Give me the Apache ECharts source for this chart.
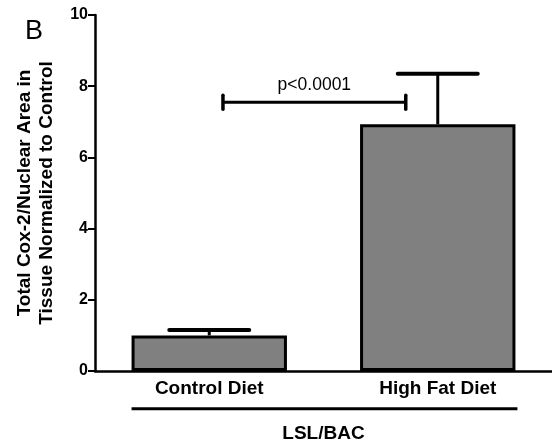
<!DOCTYPE html>
<html>
<head>
<meta charset="utf-8">
<script src="https://cdn.jsdelivr.net/npm/echarts@6/dist/echarts.min.js"></script>
<style>
html,body{margin:0;padding:0;background:#fff;}
#chart{width:552px;height:448px;}
</style>
</head>
<body>
<div id="chart"></div>
<script>
// data
var categories = ['Control Diet', 'High Fat Diet'];
var means = [1.0, 6.93];
var sems = [0.15, 1.42];
var yTicks = [0, 2, 4, 6, 8, 10];
// significance bracket: start, end (on a 0..2 scale across the plot), height
var bracket = [0.56, 1.36, 7.55];
var pLabel = 'p<0.0001';
var groupLabel = 'LSL/BAC';
var groupLineY = -1.06;

var font = 'Liberation Sans, Arial, sans-serif';

function renderError(params, api) {
	var x = api.value(0), m = api.value(1), e = api.value(2);
	var base = api.coord([x, m]);
	var top = api.coord([x, m + e]);
	var half = api.size([1, 0])[0] * 0.175;
	return {type:'group', children:[
		{type:'line', shape:{x1:base[0], y1:base[1], x2:top[0], y2:top[1]}, style:{stroke:'#000', lineWidth:3}},
		{type:'line', shape:{x1:top[0]-half, y1:top[1], x2:top[0]+half, y2:top[1]}, style:{stroke:'#000', lineWidth:4, lineCap:'round'}}
	]};
}

// bracket + group line under the categories
function renderNotes(params, api) {
	var a = api.coord([api.value(0), api.value(2)]);
	var b = api.coord([api.value(1), api.value(2)]);
	// group line spans from first bar left edge to last bar right edge
	var c0 = api.coord([0.5, groupLineY]);
	var c1 = api.coord([1.5, groupLineY]);
	var barHalf = api.size([1, 0])[0] * 0.34;
	return {type:'group', children:[
		{type:'line', shape:{x1:a[0], y1:a[1], x2:b[0], y2:b[1]}, style:{stroke:'#000', lineWidth:3}},
		{type:'line', shape:{x1:a[0], y1:a[1]-7, x2:a[0], y2:a[1]+7}, style:{stroke:'#000', lineWidth:3.5, lineCap:'round'}},
		{type:'line', shape:{x1:b[0], y1:b[1]-7, x2:b[0], y2:b[1]+7}, style:{stroke:'#000', lineWidth:3.5, lineCap:'round'}},
		{type:'text', x:(a[0]+b[0])/2, y:a[1]-8, style:{text:pLabel, fill:'#000', font:'17.5px ' + font, align:'center', verticalAlign:'bottom'}},
		{type:'line', shape:{x1:c0[0]-barHalf, y1:c0[1], x2:c1[0]+barHalf+2, y2:c1[1]}, style:{stroke:'#000', lineWidth:3}}
	]};
}

var myChart = echarts.init(document.getElementById('chart'));
var option = {
	animation: false,
	title: {
		text: 'B',
		left: 20,
		top: 13,
		textStyle: {fontFamily: font, fontSize: 27, fontWeight: 'normal', color: '#000'}
	},
	grid: {left: 95, right: 0, top: 15, bottom: 76},
	xAxis: [
		{
			type: 'category',
			data: categories,
			axisLine: {lineStyle: {color: '#000', width: 2.5}},
			axisTick: {show: false},
			axisLabel: {color: '#000', fontFamily: font, fontSize: 19, fontWeight: 'bold', margin: 8},
			name: groupLabel,
			nameLocation: 'middle',
			nameGap: 53,
			nameTextStyle: {color: '#000', fontFamily: font, fontSize: 19, fontWeight: 'bold'}
		},
		{
			type: 'value', min: 0, max: 2, show: false
		}
	],
	yAxis: {
		type: 'value',
		min: yTicks[0],
		max: yTicks[yTicks.length - 1],
		interval: 2,
		splitLine: {show: false},
		axisLine: {show: true, lineStyle: {color: '#000', width: 2.5}},
		axisTick: {show: true, length: 7, lineStyle: {color: '#000', width: 2}},
		axisLabel: {color: '#000', fontFamily: font, fontSize: 16, fontWeight: 'bold', margin: 7},
		name: 'Total Cox-2/Nuclear Area in\nTissue Normalized to Control',
		nameLocation: 'middle',
		nameRotate: 90,
		nameGap: 37,
		nameTextStyle: {color: '#000', fontFamily: font, fontSize: 19, fontWeight: 'bold', lineHeight: 22}
	},
	series: [
		{
			type: 'bar',
			data: means,
			barWidth: '68%',
			itemStyle: {color: '#808080', borderColor: '#000', borderWidth: 3},
			z: 3
		},
		{
			type: 'custom',
			renderItem: renderError,
			data: means.map(function(m, i){ return [i, m, sems[i]]; }),
			z: 2
		},
		{
			type: 'custom',
			xAxisIndex: 1,
			renderItem: renderNotes,
			clip: false,
			data: [bracket],
			z: 4
		}
	]
};
myChart.setOption(option);
</script>
</body>
</html>
